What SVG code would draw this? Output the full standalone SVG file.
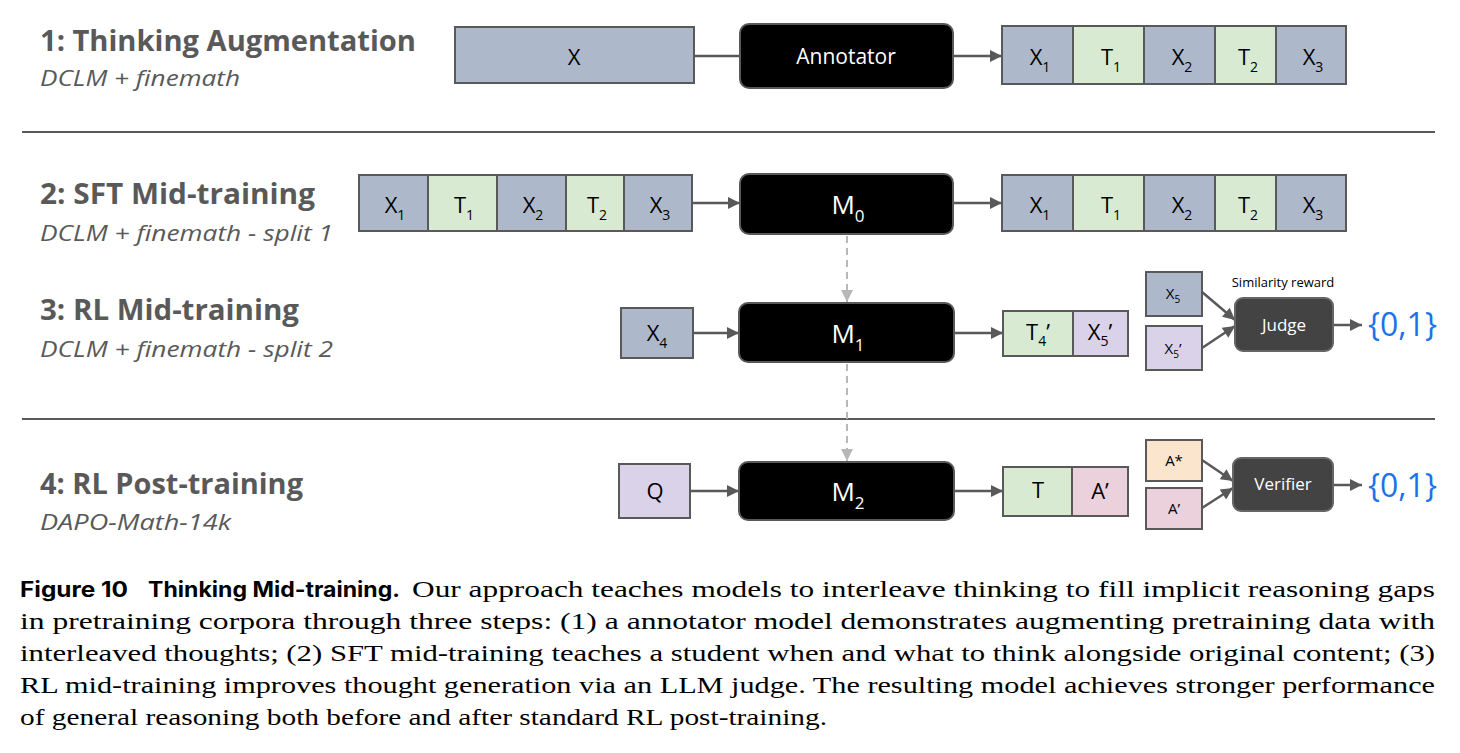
<svg xmlns="http://www.w3.org/2000/svg" width="1460" height="753" viewBox="0 0 1460 753">
<style>
.title{font-family:"Open Sans","DejaVu Sans",sans-serif;font-weight:bold;font-size:29px;fill:#595959}
.sub{font-family:"Open Sans","DejaVu Sans",sans-serif;font-style:italic;font-size:22px;fill:#595959}
.box{stroke:#595959;stroke-width:2}
.bx{fill:#adb9ca}.gr{fill:#d9ead3}.lv{fill:#d9d2e9}.pk{fill:#ead1dc}.pc{fill:#fce5cd}
.model{fill:#000;stroke:#595959;stroke-width:2}
.dark{fill:#434343;stroke:#666;stroke-width:2}
.lbl{font-family:"Open Sans","DejaVu Sans",sans-serif;font-size:22px;fill:#000;text-anchor:middle}
.lbls{font-family:"Open Sans","DejaVu Sans",sans-serif;font-size:15px;fill:#000;text-anchor:middle}
.wl{font-family:"Open Sans","DejaVu Sans",sans-serif;fill:#fff;text-anchor:middle}
.out{font-family:"Open Sans","DejaVu Sans",sans-serif;font-size:32px;fill:#1a73e8}
.sep{stroke:#595959;stroke-width:2}
.conn{stroke:#595959;stroke-width:2.5;fill:none}
.dash{stroke:#b7b7b7;stroke-width:2;stroke-dasharray:7,5;fill:none}
.cap{font-family:"Liberation Serif","DejaVu Serif",serif;font-size:23px;fill:#000}
.capb{font-family:"Inter","Liberation Sans",sans-serif;font-weight:bold;font-size:21px;fill:#000}
</style>
<defs>
<marker id="ah" viewBox="0 0 10 10" refX="10" refY="5" markerWidth="14" markerHeight="12" markerUnits="userSpaceOnUse" orient="auto">
<path d="M0,0 L10,5 L0,10 z" fill="#595959"/>
</marker>
<marker id="ahg" viewBox="0 0 10 10" refX="10" refY="5" markerWidth="12" markerHeight="12" markerUnits="userSpaceOnUse" orient="auto">
<path d="M0,0 L10,5 L0,10 z" fill="#b7b7b7"/>
</marker>
</defs>
<rect width="1460" height="753" fill="#fff"/>

<g id="labels">
<text class="title" x="40" y="51" textLength="376" lengthAdjust="spacingAndGlyphs">1: Thinking Augmentation</text>
<text class="sub" x="40" y="86" textLength="200" lengthAdjust="spacingAndGlyphs">DCLM + finemath</text>
<text class="title" x="40" y="204" textLength="275" lengthAdjust="spacingAndGlyphs">2: SFT Mid-training</text>
<text class="sub" x="40" y="241" textLength="293" lengthAdjust="spacingAndGlyphs">DCLM + finemath - split 1</text>
<text class="title" x="40" y="320" textLength="259" lengthAdjust="spacingAndGlyphs">3: RL Mid-training</text>
<text class="sub" x="40" y="357" textLength="293" lengthAdjust="spacingAndGlyphs">DCLM + finemath - split 2</text>
<text class="title" x="40" y="494" textLength="263" lengthAdjust="spacingAndGlyphs">4: RL Post-training</text>
<text class="sub" x="40" y="530" textLength="191" lengthAdjust="spacingAndGlyphs">DAPO-Math-14k</text>
</g>

<g id="separators">
<line class="sep" x1="22" y1="132" x2="1435" y2="132"/>
<line class="sep" x1="22" y1="419" x2="1435" y2="419"/>
</g>

<g id="connectors">
<line class="conn" x1="694" y1="56" x2="740" y2="56"/>
<line class="conn" x1="953" y1="56" x2="1002" y2="56" marker-end="url(#ah)"/>
<line class="conn" x1="692" y1="203" x2="740" y2="203" marker-end="url(#ah)"/>
<line class="conn" x1="953" y1="203" x2="1002" y2="203" marker-end="url(#ah)"/>
<line class="dash" x1="847" y1="236" x2="847" y2="302" marker-end="url(#ahg)"/>
<line class="conn" x1="693" y1="333" x2="739" y2="333" marker-end="url(#ah)"/>
<line class="conn" x1="954" y1="333" x2="1003" y2="333" marker-end="url(#ah)"/>
<line class="conn" x1="1202" y1="292" x2="1235" y2="320" marker-end="url(#ah)"/>
<line class="conn" x1="1202" y1="348" x2="1235" y2="326" marker-end="url(#ah)"/>
<line class="conn" x1="1333" y1="325" x2="1362" y2="325" marker-end="url(#ah)"/>
<line class="dash" x1="847" y1="364" x2="847" y2="461" marker-end="url(#ahg)"/>
<line class="conn" x1="690" y1="491" x2="739" y2="491" marker-end="url(#ah)"/>
<line class="conn" x1="954" y1="491" x2="1003" y2="491" marker-end="url(#ah)"/>
<line class="conn" x1="1202" y1="460" x2="1233" y2="481" marker-end="url(#ah)"/>
<line class="conn" x1="1202" y1="508" x2="1233" y2="488" marker-end="url(#ah)"/>
<line class="conn" x1="1333" y1="485" x2="1362" y2="485" marker-end="url(#ah)"/>
</g>

<g id="x-input">
<rect class="box bx" x="455" y="27" width="239" height="56"/>
<text class="lbl" x="574" y="65">X</text>
</g>
<g id="annotator">
<rect class="model" x="740" y="24" width="213" height="64" rx="9"/>
<text class="wl" x="846" y="64" font-size="21">Annotator</text>
</g>
<g id="seq1">
<rect class="box bx" x="1002" y="26" width="71" height="58"/>
<rect class="box gr" x="1073" y="26" width="71" height="58"/>
<rect class="box bx" x="1144" y="26" width="71" height="58"/>
<rect class="box gr" x="1215" y="26" width="61" height="58"/>
<rect class="box bx" x="1276" y="26" width="70" height="58"/>
<text class="lbl" x="1040" y="65">X<tspan font-size="14" dy="7">1</tspan></text>
<text class="lbl" x="1111" y="65">T<tspan font-size="14" dy="7">1</tspan></text>
<text class="lbl" x="1182" y="65">X<tspan font-size="14" dy="7">2</tspan></text>
<text class="lbl" x="1248" y="65">T<tspan font-size="14" dy="7">2</tspan></text>
<text class="lbl" x="1313" y="65">X<tspan font-size="14" dy="7">3</tspan></text>
</g>

<g id="seq2-in">
<rect class="box bx" x="359" y="175" width="69" height="56"/>
<rect class="box gr" x="428" y="175" width="69" height="56"/>
<rect class="box bx" x="497" y="175" width="69" height="56"/>
<rect class="box gr" x="566" y="175" width="58" height="56"/>
<rect class="box bx" x="624" y="175" width="68" height="56"/>
<text class="lbl" x="395" y="213">X<tspan font-size="14" dy="7">1</tspan></text>
<text class="lbl" x="464" y="213">T<tspan font-size="14" dy="7">1</tspan></text>
<text class="lbl" x="533" y="213">X<tspan font-size="14" dy="7">2</tspan></text>
<text class="lbl" x="597" y="213">T<tspan font-size="14" dy="7">2</tspan></text>
<text class="lbl" x="660" y="213">X<tspan font-size="14" dy="7">3</tspan></text>
</g>
<g id="m0">
<rect class="model" x="740" y="174" width="213" height="60" rx="9"/>
<text class="wl" x="848" y="214" font-size="26">M<tspan font-size="17" dy="8">0</tspan></text>
</g>
<g id="seq2-out">
<rect class="box bx" x="1002" y="175" width="71" height="56"/>
<rect class="box gr" x="1073" y="175" width="71" height="56"/>
<rect class="box bx" x="1144" y="175" width="71" height="56"/>
<rect class="box gr" x="1215" y="175" width="61" height="56"/>
<rect class="box bx" x="1276" y="175" width="70" height="56"/>
<text class="lbl" x="1040" y="213">X<tspan font-size="14" dy="7">1</tspan></text>
<text class="lbl" x="1111" y="213">T<tspan font-size="14" dy="7">1</tspan></text>
<text class="lbl" x="1182" y="213">X<tspan font-size="14" dy="7">2</tspan></text>
<text class="lbl" x="1248" y="213">T<tspan font-size="14" dy="7">2</tspan></text>
<text class="lbl" x="1313" y="213">X<tspan font-size="14" dy="7">3</tspan></text>
</g>

<g id="x4">
<rect class="box bx" x="621" y="308" width="72" height="50"/>
<text class="lbl" x="657" y="341">X<tspan font-size="14" dy="7">4</tspan></text>
</g>
<g id="m1">
<rect class="model" x="739" y="303" width="215" height="59" rx="9"/>
<text class="wl" x="848" y="343" font-size="26">M<tspan font-size="17" dy="8">1</tspan></text>
</g>
<g id="seq3-out">
<rect class="box gr" x="1003" y="311" width="70" height="45"/>
<rect class="box lv" x="1073" y="311" width="55" height="45"/>
<text class="lbl" x="1038" y="340">T<tspan font-size="14" dy="6">4</tspan><tspan dy="-6">’</tspan></text>
<text class="lbl" x="1100" y="340">X<tspan font-size="14" dy="6">5</tspan><tspan dy="-6">’</tspan></text>
</g>
<g id="x5">
<rect class="box bx" x="1146" y="272" width="56" height="44"/>
<text class="lbls" x="1173" y="299">X<tspan font-size="10" dy="4">5</tspan></text>
</g>
<g id="x5p">
<rect class="box lv" x="1146" y="326" width="56" height="44"/>
<text class="lbls" x="1173" y="354">X<tspan font-size="10" dy="4">5</tspan><tspan dy="-4">’</tspan></text>
</g>
<g id="judge">
<text x="1283" y="287" font-family="Open Sans, DejaVu Sans, sans-serif" font-size="13" fill="#000" text-anchor="middle">Similarity reward</text>
<rect class="dark" x="1235" y="298" width="98" height="53" rx="8"/>
<text class="wl" x="1284" y="331" font-size="17">Judge</text>
</g>
<g id="out3">
<text class="out" x="1368" y="336">{0,1}</text>
</g>

<g id="q">
<rect class="box lv" x="619" y="464" width="71" height="54"/>
<text class="lbl" x="655" y="499">Q</text>
</g>
<g id="m2">
<rect class="model" x="739" y="462" width="215" height="58" rx="9"/>
<text class="wl" x="848" y="501" font-size="26">M<tspan font-size="17" dy="8">2</tspan></text>
</g>
<g id="seq4-out">
<rect class="box gr" x="1003" y="467" width="69" height="49"/>
<rect class="box pk" x="1072" y="467" width="56" height="49"/>
<text class="lbl" x="1038" y="498" font-size="18">T</text>
<text class="lbl" x="1100" y="499">A’</text>
</g>
<g id="astar">
<rect class="box pc" x="1146" y="440" width="56" height="41"/>
<text class="lbls" x="1174" y="466">A*</text>
</g>
<g id="aprime">
<rect class="box pk" x="1146" y="488" width="56" height="41"/>
<text class="lbls" x="1174" y="514">A’</text>
</g>
<g id="verifier">
<rect class="dark" x="1233" y="458" width="100" height="53" rx="8"/>
<text class="wl" x="1283" y="490" font-size="17">Verifier</text>
</g>
<g id="out4">
<text class="out" x="1368" y="497">{0,1}</text>
</g>

<g id="caption">
<text class="capb" x="20" y="597" textLength="108" lengthAdjust="spacingAndGlyphs">Figure 10</text>
<text class="capb" x="148" y="597" textLength="252" lengthAdjust="spacingAndGlyphs">Thinking Mid-training.</text>
<text class="cap" x="412" y="597" textLength="1023" lengthAdjust="spacingAndGlyphs">Our approach teaches models to interleave thinking to fill implicit reasoning gaps</text>
<text class="cap" x="20" y="629" textLength="1415" lengthAdjust="spacingAndGlyphs">in pretraining corpora through three steps: (1) a annotator model demonstrates augmenting pretraining data with</text>
<text class="cap" x="20" y="661" textLength="1415" lengthAdjust="spacingAndGlyphs">interleaved thoughts; (2) SFT mid-training teaches a student when and what to think alongside original content; (3)</text>
<text class="cap" x="20" y="693" textLength="1415" lengthAdjust="spacingAndGlyphs">RL mid-training improves thought generation via an LLM judge. The resulting model achieves stronger performance</text>
<text class="cap" x="20" y="725" textLength="807" lengthAdjust="spacingAndGlyphs">of general reasoning both before and after standard RL post-training.</text>
</g>
</svg>
